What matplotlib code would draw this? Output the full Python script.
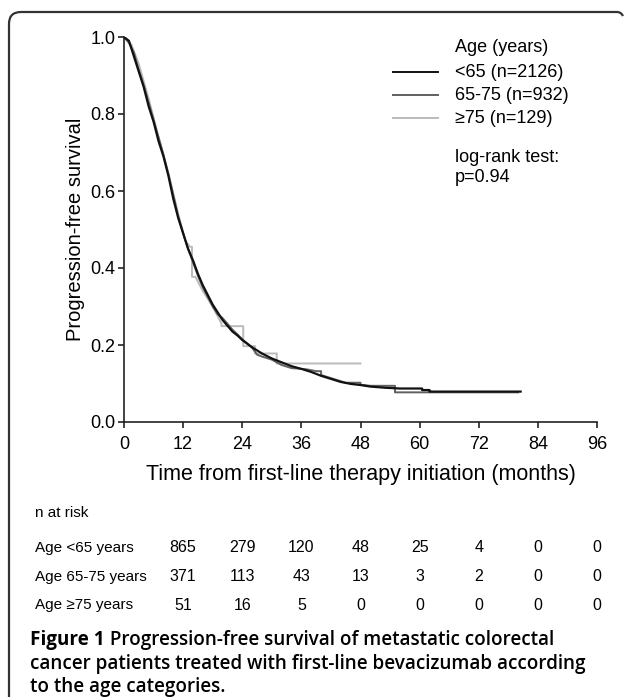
import matplotlib
matplotlib.use('Agg')
import matplotlib.pyplot as plt
from matplotlib.path import Path
from matplotlib.patches import PathPatch
from matplotlib.transforms import blended_transform_factory

plt.rcParams['font.family'] = ['Liberation Sans', 'DejaVu Sans']

# Kaplan-Meier curves (months, survival)
t_lt65 = [0, 1, 2, 3, 4, 5, 6, 7, 8, 9, 10, 11, 12, 13, 14, 15, 16, 17, 18, 19, 20,
          21, 22, 23, 24, 26, 28, 30, 32, 34, 36, 38, 40, 42, 44, 46, 48, 50, 53, 56,
          60.5, 60.5, 62, 62, 80.5]
s_lt65 = [1.0, 0.99, 0.95, 0.91, 0.87, 0.82, 0.78, 0.73, 0.69, 0.64, 0.58, 0.53, 0.49,
          0.45, 0.42, 0.385, 0.355, 0.33, 0.305, 0.285, 0.265, 0.25, 0.235, 0.225, 0.213,
          0.194, 0.178, 0.165, 0.155, 0.145, 0.138, 0.13, 0.12, 0.112, 0.104, 0.099,
          0.096, 0.092, 0.089, 0.087, 0.087, 0.083, 0.083, 0.079, 0.079]

t_6575 = [0, 1, 2, 3, 4, 5, 6, 7, 8, 9, 10, 11, 12, 13, 14, 15, 16, 17, 18, 19, 20,
          21, 22, 23, 24, 26, 27, 28, 30, 32, 34, 37, 39, 40, 40, 43, 45, 48, 48, 50,
          55, 55, 80]
s_6575 = [1.0, 0.985, 0.96, 0.915, 0.875, 0.83, 0.785, 0.74, 0.695, 0.645, 0.59, 0.535,
          0.49, 0.45, 0.415, 0.38, 0.35, 0.325, 0.30, 0.28, 0.27, 0.255, 0.24, 0.228,
          0.215, 0.193, 0.175, 0.17, 0.162, 0.148, 0.14, 0.137, 0.132, 0.132, 0.122,
          0.11, 0.102, 0.102, 0.097, 0.094, 0.094, 0.077, 0.077]

t_ge75 = [0, 1.5, 3, 5, 7, 8.5, 9.5, 11, 12.5, 13.4, 13.8, 13.8, 14.5, 16, 18, 19.8,
          19.8, 24.2, 24.2, 26.6, 26.6, 31, 31, 48]
s_ge75 = [1.0, 0.98, 0.93, 0.84, 0.74, 0.67, 0.62, 0.54, 0.47, 0.455, 0.455, 0.377,
          0.377, 0.34, 0.30, 0.255, 0.249, 0.249, 0.197, 0.197, 0.178, 0.178, 0.152, 0.152]

labels = ['<65 (n=2126)', '65-75 (n=932)', '\u226575 (n=129)']
colors = ['#111111', '#606060', '#bbbbbb']

# numbers at risk
risk_times = [12, 24, 36, 48, 60, 72, 84, 96]
risk_rows = ['Age <65 years', 'Age 65-75 years', 'Age \u226575 years']
risk_lt65 = [865, 279, 120, 48, 25, 4, 0, 0]
risk_6575 = [371, 113, 43, 13, 3, 2, 0, 0]
risk_ge75 = [51, 16, 5, 0, 0, 0, 0, 0]

W, H = 627, 697
fig = plt.figure(figsize=(W / 100, H / 100), dpi=100)
ax = fig.add_axes([124 / W, 1 - 422 / H, 473 / W, 385 / H])

ax.plot(t_lt65, s_lt65, color=colors[0], lw=1.6, zorder=3)
ax.plot(t_6575, s_6575, color=colors[1], lw=1.4, zorder=2)
ax.plot(t_ge75, s_ge75, color=colors[2], lw=1.4, zorder=1)

ax.set_xlim(0, 96)
ax.set_ylim(0, 1.0)
ax.set_xticks(range(0, 97, 12))
ax.set_yticks([0, 0.2, 0.4, 0.6, 0.8, 1.0])
ax.set_yticklabels(['0.0', '0.2', '0.4', '0.6', '0.8', '1.0'])
ax.spines['top'].set_visible(False)
ax.spines['right'].set_visible(False)
for sp in ['left', 'bottom']:
    ax.spines[sp].set_linewidth(1.2)
    ax.spines[sp].set_color('#222222')
ax.tick_params(direction='out', length=4, width=1.2, color='#222222', labelsize=13)
ax.tick_params(axis='y', pad=2)
ax.tick_params(axis='x', pad=6)
ax.set_ylabel('Progression-free survival', fontsize=14.5, labelpad=4)
ax.set_xlabel('Time from first-line therapy initiation (months)', fontsize=15.5, labelpad=8)

# legend drawn by hand
ax.text(0.70, 0.974, 'Age (years)', transform=ax.transAxes, fontsize=13, va='center')
for i, (lab, c) in enumerate(zip(labels, colors)):
    yy = 0.909 - i * 0.06
    ax.plot([0.569, 0.664], [yy, yy], color=c, lw=1.4, transform=ax.transAxes, clip_on=False)
    ax.text(0.70, yy, lab, transform=ax.transAxes, fontsize=13, va='center')
ax.text(0.70, 0.688, 'log-rank test:', transform=ax.transAxes, fontsize=13, va='center')
ax.text(0.70, 0.636, 'p=0.94', transform=ax.transAxes, fontsize=13, va='center')

# numbers at risk table
tr = blended_transform_factory(ax.transData, fig.transFigure)
fig.text(35 / W, 1 - 513 / H, 'n at risk', fontsize=11, va='center')
for j, (row, vals) in enumerate(zip(risk_rows, [risk_lt65, risk_6575, risk_ge75])):
    yy = 1 - (548 + j * 28.5) / H
    fig.text(35 / W, yy, row, fontsize=11, va='center')
    for tt, v in zip(risk_times, vals):
        ax.text(tt, yy, str(v), transform=tr, fontsize=11.5, ha='center', va='center')

# caption
cap = dict(fontsize=13.6, family='Open Sans', va='bottom')
t1 = fig.text(30 / W, 1 - 650 / H, 'Figure 1', fontweight='bold', **cap)
ax.annotate(' Progression-free survival of metastatic colorectal', xy=(1, 0),
            xycoords=t1, fontweight='semibold', ha='left', annotation_clip=False, **cap)
fig.text(30 / W, 1 - 674 / H, 'cancer patients treated with first-line bevacizumab according',
         fontweight='semibold', **cap)
fig.text(30 / W, 1 - 697 / H, 'to the age categories.', fontweight='semibold', **cap)

# frame with rounded top-left corner
r = 12
pts = [(9, 697), (9, 12 + r), (9, 12), (9 + r, 12), (617, 12), (621, 12), (623, 16)]
codes = [Path.MOVETO, Path.LINETO, Path.CURVE3, Path.CURVE3, Path.LINETO, Path.CURVE3, Path.CURVE3]
pts = [(x / W, 1 - y / H) for x, y in pts]
fig.add_artist(PathPatch(Path(pts, codes), transform=fig.transFigure, fill=False,
                         edgecolor='#333333', lw=1.6))

fig.savefig('out.png', dpi=100)
